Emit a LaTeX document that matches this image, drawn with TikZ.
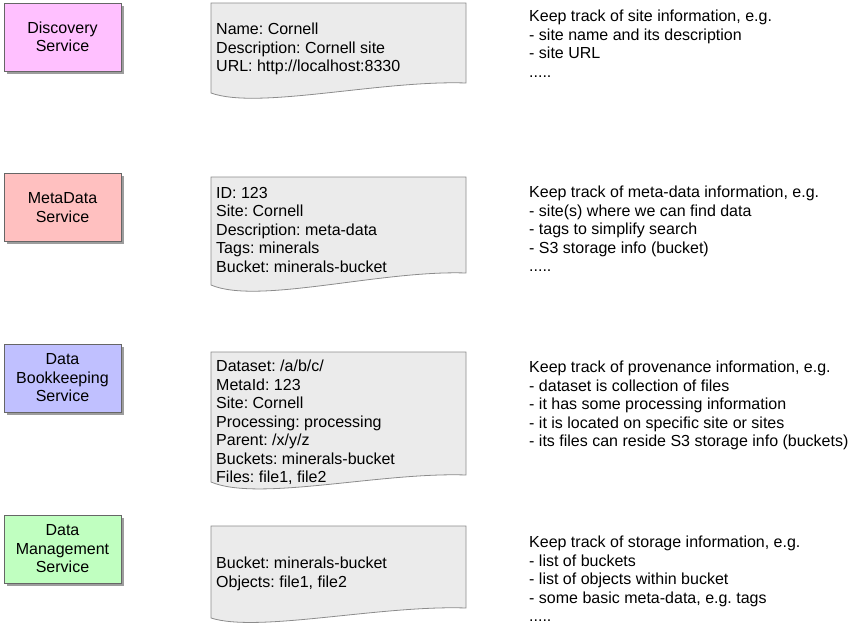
\documentclass[tikz,border=0pt]{standalone}
\usepackage{fontspec}
\setmainfont{Liberation Sans}
\frenchspacing
\usetikzlibrary{shadows}
\definecolor{discfill}{HTML}{FFC0FF}
\definecolor{metafill}{HTML}{FFC0C0}
\definecolor{dbsfill}{HTML}{C0C0FF}
\definecolor{dmfill}{HTML}{C0FFC0}
\definecolor{docfill}{HTML}{EBEBEB}
\definecolor{docline}{HTML}{8C8C8C}
\newcommand{\docshape}[4]{%
  \draw[docstyle] (211,#1) -- (466,#1) -- (466,#3)
    .. controls (380,{#3-3}) and (258,{#4+11}) .. (211,#2) -- cycle;}
\begin{document}
\begin{tikzpicture}[x=1pt,y=-1pt,
  svc/.style={draw=black!60, line width=0.8pt, minimum width=117pt, minimum height=68pt,
    align=center, inner sep=0pt, font=\fontsize{16}{18.5}\selectfont,
    drop shadow={shadow xshift=2.5pt, shadow yshift=-2.5pt, fill=black!55, opacity=0.7}},
  docstyle/.style={draw=docline, fill=docfill, line width=0.8pt},
  doctext/.style={anchor=north west, inner sep=0pt, align=left, font=\fontsize{16}{18.5}\selectfont}
]
\useasboundingbox (0,0) rectangle (855,630);

% services
\node[svc, fill=discfill] (disc) at (62.5,37) {Discovery\\Service};
\node[svc, fill=metafill] (meta) at (62.5,207.5) {MetaData\\Service};
\node[svc, fill=dbsfill] (dbs) at (62.5,378) {Data\\Bookkeeping\\Service};
\node[svc, fill=dmfill] (dm) at (62.5,549) {Data\\Management\\Service};

% documents
\docshape{3}{93}{83}{99}
\node[doctext] (d1) at (216,23) {Name: Cornell\\Description: Cornell site\\URL: http://localhost:8330};
\docshape{177}{285}{273}{294}
\node[doctext] (d2) at (216,187) {ID: 123\\Site: Cornell\\Description: meta-data\\Tags: minerals\\Bucket: minerals-bucket};
\docshape{352}{482}{475}{491}
\node[doctext] (d3) at (216,360) {Dataset: /a/b/c/\\MetaId: 123\\Site: Cornell\\Processing: processing\\Parent: /x/y/z\\Buckets: minerals-bucket\\Files: file1, file2};
\docshape{526}{618}{608}{622}
\node[doctext] (d4) at (216,557) {Bucket: minerals-bucket\\Objects: file1, file2};

% descriptions
\node[doctext] (t1) at (529,10) {Keep track of site information, e.g.\\- site name and its description\\- site URL\\.....};
\node[doctext] (t2) at (529,186) {Keep track of meta-data information, e.g.\\- site(s) where we can find data\\- tags to simplify search\\- S3 storage info (bucket)\\.....};
\node[doctext] (t3) at (529,361) {Keep track of provenance information, e.g.\\- dataset is collection of files\\- it has some processing information\\- it is located on specific site or sites\\- its files can reside S3 storage info (buckets)};
\node[doctext] (t4) at (529,536) {Keep track of storage information, e.g.\\- list of buckets\\- list of objects within bucket\\- some basic meta-data, e.g. tags\\.....};
\end{tikzpicture}
\end{document}
